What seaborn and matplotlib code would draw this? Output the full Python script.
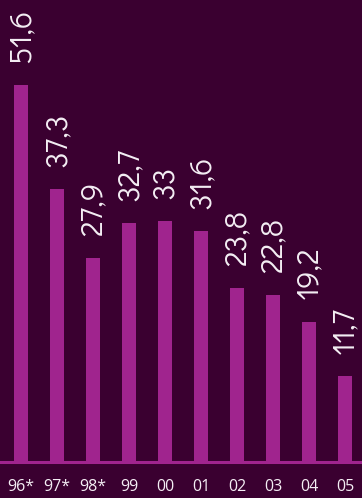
import matplotlib.pyplot as plt
import pandas as pd
import seaborn as sns

# 数据
years = ["96*", "97*", "98*", "99", "00", "01", "02", "03", "04", "05"]
values = [51.6, 37.3, 27.9, 32.7, 33.0, 31.6, 23.8, 22.8, 19.2, 11.7]
value_labels = ["51,6", "37,3", "27,9", "32,7", "33", "31,6", "23,8", "22,8", "19,2", "11,7"]

df = pd.DataFrame({"year": years, "value": values})

# 颜色
bg = "#3a0030"
bar_color = "#a0248e"
text_color = "#f4eef4"

sns.set_theme(style="white")
plt.rcParams["font.family"] = ["Open Sans", "DejaVu Sans"]

fig = plt.figure(figsize=(3.62, 4.98), dpi=100, facecolor=bg)
ax = fig.add_axes([0, 36 / 498, 1, 462 / 498])
ax.set_facecolor(bg)

sns.barplot(data=df, x="year", y="value", order=years, color=bar_color,
            saturation=1, width=0.375, linewidth=0, ax=ax)

# 数值标注（竖排）
for i, (v, lab) in enumerate(zip(values, value_labels)):
    ax.annotate(lab, (i, v), xytext=(0, 16), textcoords="offset points",
                rotation=90, ha="center", va="bottom", fontsize=22.5,
                color=text_color, family=["Didact Gothic", "Lato", "DejaVu Sans"])

ax.set_xlim(-21 / 36, 341 / 36)
ax.set_ylim(0, 462 / 7.31)
ax.set_xlabel("")
ax.set_ylabel("")
ax.set_yticks([])
ax.tick_params(axis="x", length=0, pad=12.5, labelsize=11.5, labelcolor=text_color)

for side in ["top", "left", "right"]:
    ax.spines[side].set_visible(False)
ax.spines["bottom"].set_color(bar_color)
ax.spines["bottom"].set_linewidth(2.2)

fig.savefig("out.png", dpi=100, facecolor=bg)
